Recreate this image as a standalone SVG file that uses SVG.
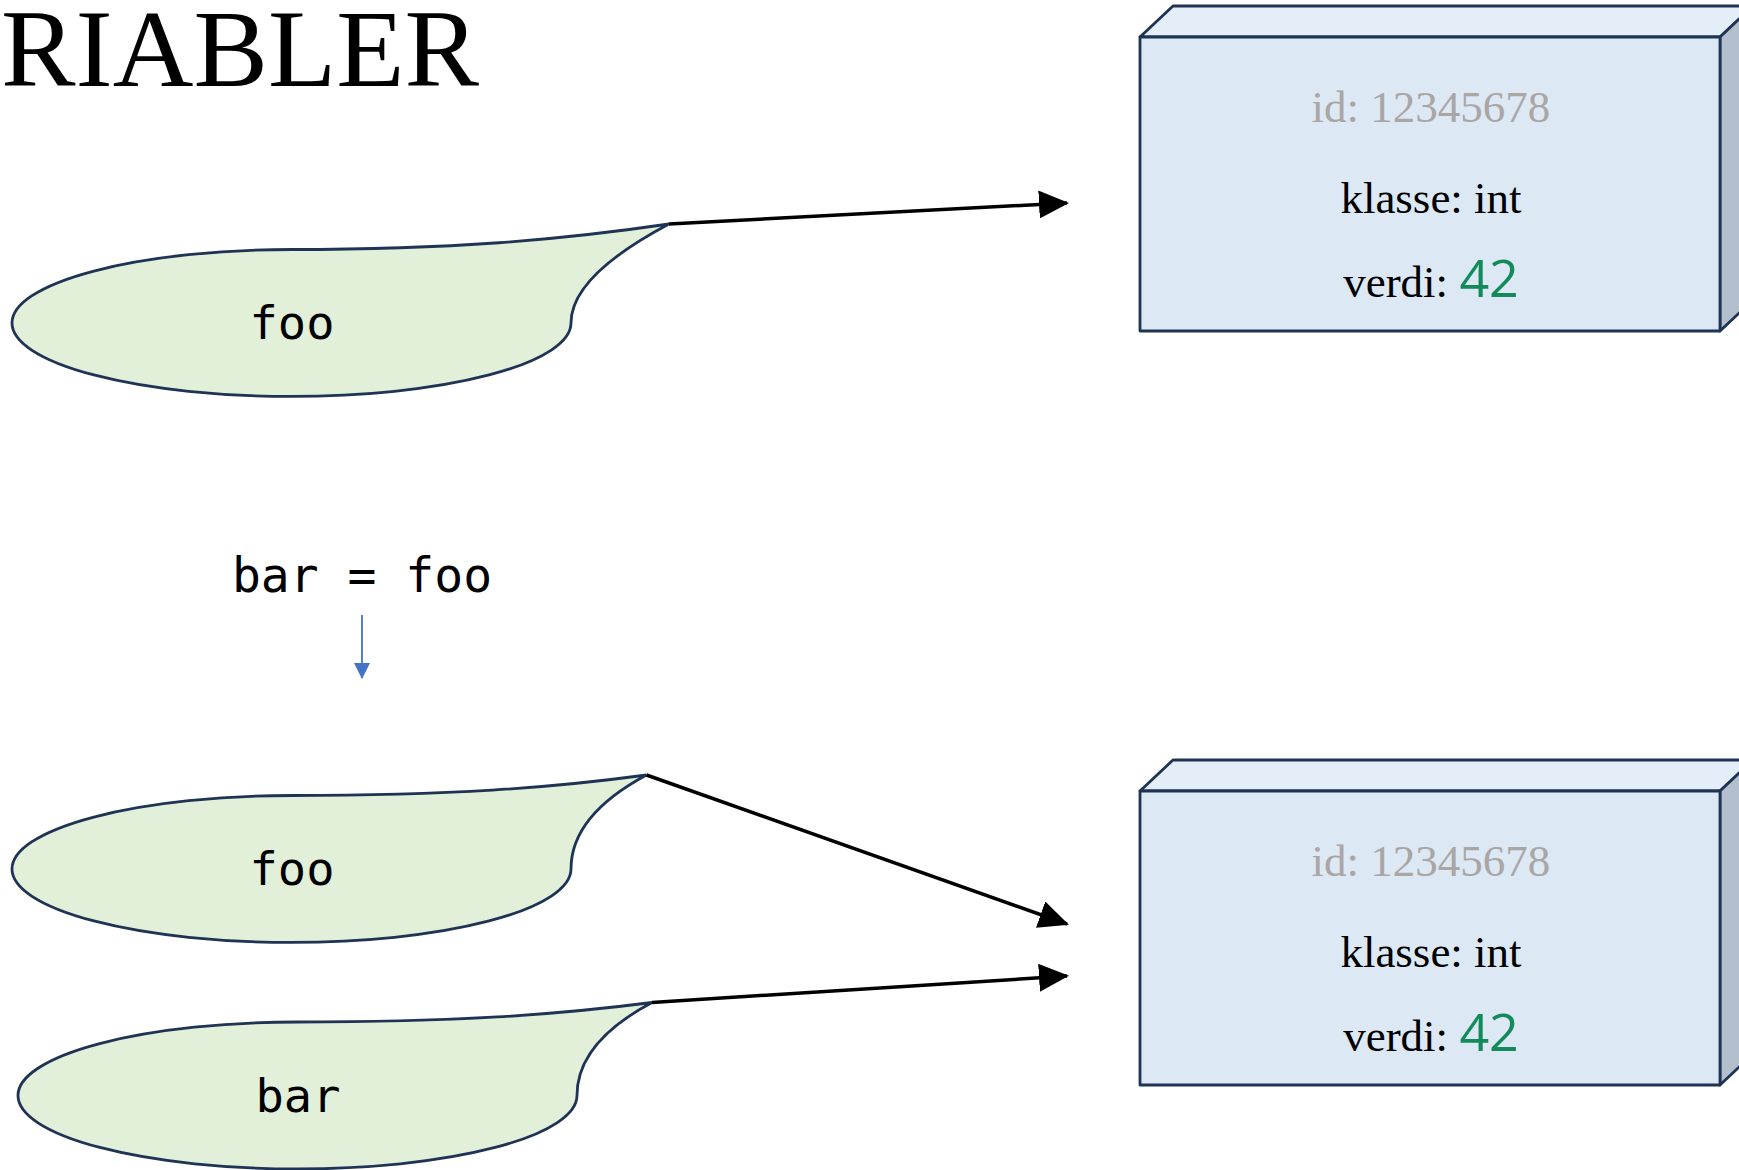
<svg xmlns="http://www.w3.org/2000/svg" width="1739" height="1170" viewBox="0 0 1739 1170">
  <style>
    .title { font-family: "Liberation Serif", serif; font-size: 110px; fill: #000; }
    .blob { fill: #e2efd9; stroke: #1f3354; stroke-width: 2.8; }
    .front { fill: #dde8f5; stroke: #1f3354; stroke-width: 2.8; stroke-linejoin: round; }
    .topf { fill: #e4eef9; stroke: #1f3354; stroke-width: 2.8; stroke-linejoin: round; }
    .side { fill: #b3bfcc; stroke: #1f3354; stroke-width: 2.8; stroke-linejoin: round; }
    .mono { font-family: "DejaVu Sans Mono", monospace; fill: #000; }
    .serif { font-family: "Liberation Serif", serif; font-size: 45px; text-anchor: middle; }
    .id { fill: #aaa6a4; }
    .num { font-family: "Open Sans", "Noto Sans", sans-serif; font-size: 52px; fill: #138a5a; }
    .conn { stroke: #000; stroke-width: 3.5; fill: none; marker-end: url(#ah); }
  </style>
  <defs>
    <marker id="ah" markerUnits="userSpaceOnUse" markerWidth="30" markerHeight="28" viewBox="0 0 30 28" refX="28" refY="14" orient="auto">
      <path d="M0,0 L30,14 L0,28 Z" fill="#000"/>
    </marker>
    <marker id="ahb" markerUnits="userSpaceOnUse" markerWidth="16" markerHeight="16" viewBox="0 0 16 16" refX="15" refY="8" orient="auto">
      <path d="M0,0 L16,8 L0,16 Z" fill="#4472c4"/>
    </marker>
  </defs>

  <text class="title" x="1" y="86" textLength="478" lengthAdjust="spacingAndGlyphs">RIABLER</text>

  <g id="obj1">
    <polygon class="topf" points="1140,37 1173,6 1753,6 1720,37"/>
    <polygon class="side" points="1720,37 1753,6 1753,300 1720,331"/>
    <rect class="front" x="1140" y="37" width="580" height="294"/>
    <text class="serif id" x="1431" y="122">id: 12345678</text>
    <text class="serif" x="1431" y="213">klasse: int</text>
    <text class="serif" x="1431" y="297">verdi: <tspan class="num">42</tspan></text>
  </g>

  <g id="obj2">
    <polygon class="topf" points="1140,791 1173,760 1753,760 1720,791"/>
    <polygon class="side" points="1720,791 1753,760 1753,1054 1720,1085"/>
    <rect class="front" x="1140" y="791" width="580" height="294"/>
    <text class="serif id" x="1431" y="876">id: 12345678</text>
    <text class="serif" x="1431" y="967">klasse: int</text>
    <text class="serif" x="1431" y="1051">verdi: <tspan class="num">42</tspan></text>
  </g>

  <g id="foo1">
    <path class="blob" d="M291.5,249.5 C450,249.5 560,240 669,224 C620,250 571,285 571,323 A279.5,73.5 0 0 1 12,323 A279.5,73.5 0 0 1 291.5,249.5 Z"/>
    <text class="mono" x="292" y="339" font-size="47" text-anchor="middle">foo</text>
  </g>

  <g id="assign">
    <text class="mono" x="362" y="592" font-size="48" text-anchor="middle">bar = foo</text>
  </g>

  <g id="foo2">
    <path class="blob" d="M291.5,795.5 C450,795.5 550,788 646.5,775 C600,800 571,830 571,869 A279.5,73.5 0 0 1 12,869 A279.5,73.5 0 0 1 291.5,795.5 Z"/>
    <text class="mono" x="292" y="885" font-size="47" text-anchor="middle">foo</text>
  </g>

  <g id="bar">
    <path class="blob" d="M297,1022 C455,1022 555,1015 652,1002.5 C606,1027 577,1057 577,1095.5 A279.5,73.5 0 0 1 18,1095.5 A279.5,73.5 0 0 1 297,1022 Z"/>
    <text class="mono" x="298" y="1112" font-size="47" text-anchor="middle">bar</text>
  </g>

  <g id="connectors">
    <line class="conn" x1="669" y1="224" x2="1067" y2="203"/>
    <line class="conn" x1="646.5" y1="775" x2="1067" y2="924"/>
    <line class="conn" x1="652" y1="1002.5" x2="1067" y2="976"/>
    <line x1="362" y1="615" x2="362" y2="678" stroke="#4472c4" stroke-width="1.8" marker-end="url(#ahb)"/>
  </g>
</svg>
